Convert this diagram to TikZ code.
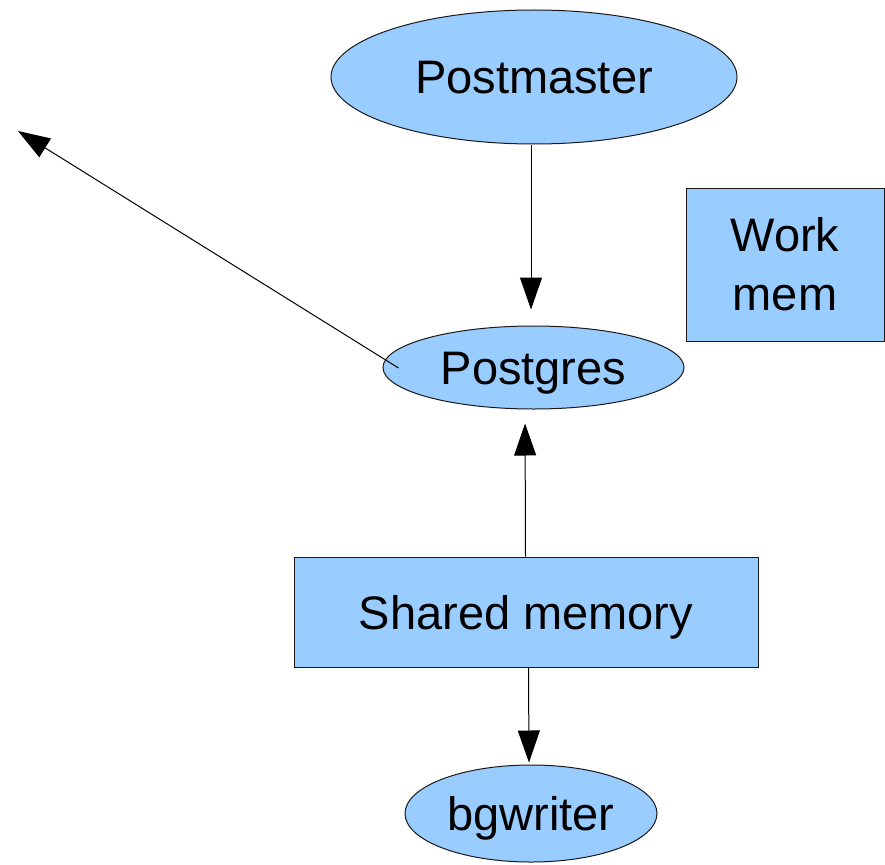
\documentclass[tikz,border=0pt]{standalone}
\usepackage{fontspec}
\setmainfont{Liberation Sans}
\usetikzlibrary{shapes.geometric,arrows.meta}
\definecolor{boxblue}{RGB}{153,204,255}
\begin{document}
\begin{tikzpicture}[x=1pt,y=-1pt,
  shapestyle/.style={draw=black!90, line width=1pt, fill=boxblue, inner sep=0pt,
    font=\fontsize{47}{59}\selectfont, text height=34pt, text depth=0pt},
  ell/.style={shapestyle, ellipse},
  rectbox/.style={shapestyle, rectangle, align=center},
  arr/.style={line width=1pt, -{Triangle[length=32pt,width=22pt]}}]
\useasboundingbox (0,0) rectangle (885,864);
\node[ell, minimum width=406pt, minimum height=134pt] (pm) at (534,77) {Postmaster};
\node[ell, minimum width=301pt, minimum height=83pt] (pg) at (533.5,367.5) {Postgres};
\node[rectbox, text height=, text depth=, minimum width=198pt, minimum height=153pt] (wm) at (785,264.5) {Work\\mem};
\node[rectbox, minimum width=464pt, minimum height=110pt] (sm) at (526,612) {Shared memory};
\node[ell, minimum width=252pt, minimum height=97pt] (bg) at (531,813.5) {bgwriter};
\coordinate (out) at (18,131);
\draw[arr, shorten >=16pt] ([xshift=-3pt]pm.south) -- ([xshift=-2.5pt]pg.north);
\draw[arr] ([xshift=16pt,yshift=-0.5pt]pg.west) -- (out);
\draw[arr, shorten >=14pt] ([xshift=-0.5pt]sm.north) -- ([xshift=-8.5pt]pg.south);
\draw[arr, shorten >=2pt] ([xshift=2.5pt]sm.south) -- ([xshift=-2pt]bg.north);
\end{tikzpicture}
\end{document}
